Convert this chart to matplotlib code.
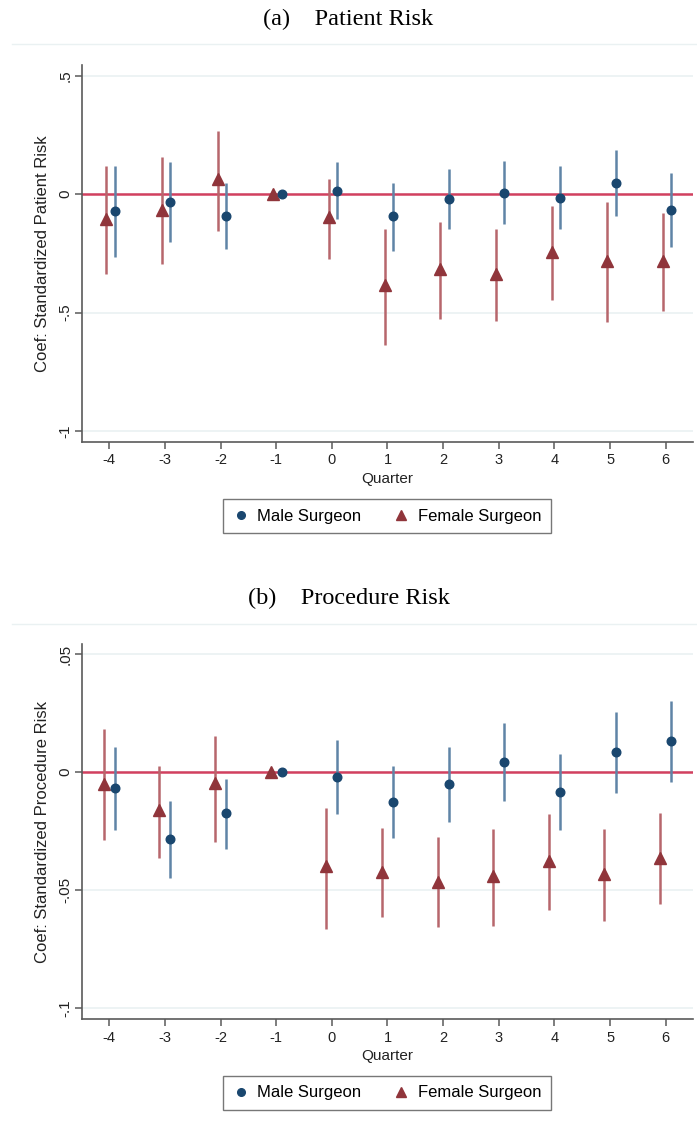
import numpy as np
import matplotlib.pyplot as plt
from matplotlib.lines import Line2D

# Event-time quarters
quarters = np.array([-4, -3, -2, -1, 0, 1, 2, 3, 4, 5, 6])

# Panel (a): patient risk coefficients and 95% CIs
pat_male = [-0.072, -0.035, -0.093, 0.0, 0.015, -0.091, -0.020, 0.006, -0.015, 0.046, -0.066]
pat_male_lo = [-0.264, -0.202, -0.233, 0.0, -0.107, -0.239, -0.147, -0.128, -0.147, -0.091, -0.223]
pat_male_hi = [0.117, 0.136, 0.049, 0.0, 0.136, 0.049, 0.105, 0.140, 0.117, 0.187, 0.090]
pat_female = [-0.104, -0.065, 0.062, 0.0, -0.098, -0.385, -0.315, -0.336, -0.244, -0.284, -0.284]
pat_female_lo = [-0.336, -0.295, -0.157, 0.0, -0.274, -0.635, -0.528, -0.534, -0.448, -0.539, -0.493]
pat_female_hi = [0.117, 0.156, 0.268, 0.0, 0.065, -0.147, -0.118, -0.147, -0.052, -0.035, -0.081]

# Panel (b): procedure risk coefficients and 95% CIs
proc_male = [-0.0066, -0.0285, -0.0173, 0.0, -0.0021, -0.0127, -0.0051, 0.0041, -0.0082, 0.0086, 0.0131]
proc_male_lo = [-0.0244, -0.0446, -0.0325, 0.0, -0.0176, -0.0280, -0.0210, -0.0123, -0.0244, -0.0087, -0.0041]
proc_male_hi = [0.0106, -0.0124, -0.0027, 0.0, 0.0137, 0.0028, 0.0106, 0.0207, 0.0075, 0.0254, 0.0300]
proc_female = [-0.0049, -0.0162, -0.0045, 0.0, -0.0399, -0.0423, -0.0465, -0.0441, -0.0376, -0.0430, -0.0363]
proc_female_lo = [-0.0289, -0.0362, -0.0296, 0.0, -0.0662, -0.0615, -0.0655, -0.0651, -0.0585, -0.0631, -0.0559]
proc_female_hi = [0.0183, 0.0024, 0.0151, 0.0, -0.0151, -0.0235, -0.0276, -0.0241, -0.0179, -0.0241, -0.0173]

NAVY = "#1a476f"
NAVY_CI = "#5f84a6"
MAROON = "#90353b"
MAROON_CI = "#b7666c"
ZERO = "#d2405f"
GRID = "#eaf1f2"
AXIS = "#5a5a5a"

SANS = "Liberation Sans"
SERIF = "Liberation Serif"

fig = plt.figure(figsize=(6.97, 11.27), dpi=100)


def draw_panel(rect, male, male_lo, male_hi, female, female_lo, female_hi,
               yticks, yticklabels, ylim, ylabel, f_off, m_off, leg_y):
    ax = fig.add_axes(rect)
    ax.set_xlim(-4.49, 6.49)
    ax.set_ylim(*ylim)
    for y in yticks:
        ax.axhline(y, color=GRID, lw=1.2, zorder=0)
    ax.axhline(0, color=ZERO, lw=1.8, zorder=1)

    xf = quarters + f_off
    xm = quarters + m_off
    ax.vlines(xf, female_lo, female_hi, color=MAROON_CI, lw=1.8, zorder=2)
    ax.vlines(xm, male_lo, male_hi, color=NAVY_CI, lw=1.8, zorder=2)
    ax.plot(xf, female, ls="none", marker="^", ms=8, color=MAROON, zorder=3)
    ax.plot(xm, male, ls="none", marker="o", ms=6.2, color=NAVY, zorder=3)

    for side in ("top", "right"):
        ax.spines[side].set_visible(False)
    for side in ("left", "bottom"):
        ax.spines[side].set_color(AXIS)
        ax.spines[side].set_linewidth(1.2)
    ax.set_xticks(quarters)
    ax.set_xticklabels([str(q) for q in quarters], fontfamily=SANS, fontsize=10.5)
    ax.set_yticks(yticks)
    ax.set_yticklabels(yticklabels, fontfamily=SANS, fontsize=11,
                       rotation=90, va="center")
    ax.tick_params(axis="both", colors=AXIS, length=5, width=1.1, labelcolor="#222222")
    ax.tick_params(axis="y", pad=2)
    ax.set_xlabel("Quarter", fontfamily=SANS, fontsize=11, color="#222222", labelpad=3)
    ax.set_ylabel(ylabel, fontfamily=SANS, fontsize=12, color="#222222", labelpad=6)

    handles = [
        Line2D([], [], ls="none", marker="o", ms=5.5, color=NAVY, label="Male Surgeon"),
        Line2D([], [], ls="none", marker="^", ms=7.5, color=MAROON, label="Female Surgeon"),
    ]
    leg = fig.legend(handles=handles, loc="center", bbox_to_anchor=(387 / 697, 1 - leg_y / 1127),
                     ncol=2, frameon=True, fancybox=False, handletextpad=0.5,
                     columnspacing=1.9, handlelength=1.0, borderpad=0.55,
                     prop={"family": SANS, "size": 12})
    leg.get_frame().set_edgecolor("#555555")
    leg.get_frame().set_linewidth(1.0)
    return ax


draw_panel([0.1176, 0.6081, 0.8766, 0.3342],
           pat_male, pat_male_lo, pat_male_hi,
           pat_female, pat_female_lo, pat_female_hi,
           [-1, -0.5, 0, 0.5], ["-1", "-.5", "0", ".5"], (-1.045, 0.545),
           "Coef: Standardized Patient Risk", -0.05, 0.1, 516)

draw_panel([0.1176, 0.0958, 0.8766, 0.3327],
           proc_male, proc_male_lo, proc_male_hi,
           proc_female, proc_female_lo, proc_female_hi,
           [-0.1, -0.05, 0, 0.05], ["-.1", "-.05", "0", ".05"], (-0.1045, 0.0542),
           "Coef: Standardized Procedure Risk", -0.1, 0.1, 1093)

# Panel captions and faint frame lines of the graph regions
fig.text(0.5, 1 - 19 / 1127, "(a)    Patient Risk", ha="center", va="center",
         fontfamily=SERIF, fontsize=17.5)
fig.text(0.5, 1 - 598 / 1127, "(b)    Procedure Risk", ha="center", va="center",
         fontfamily=SERIF, fontsize=17.5)
for yp in (44, 624):
    fig.add_artist(Line2D([12 / 697, 1], [1 - yp / 1127] * 2, color=GRID, lw=1))

fig.savefig("out.png", dpi=100, facecolor="white")
